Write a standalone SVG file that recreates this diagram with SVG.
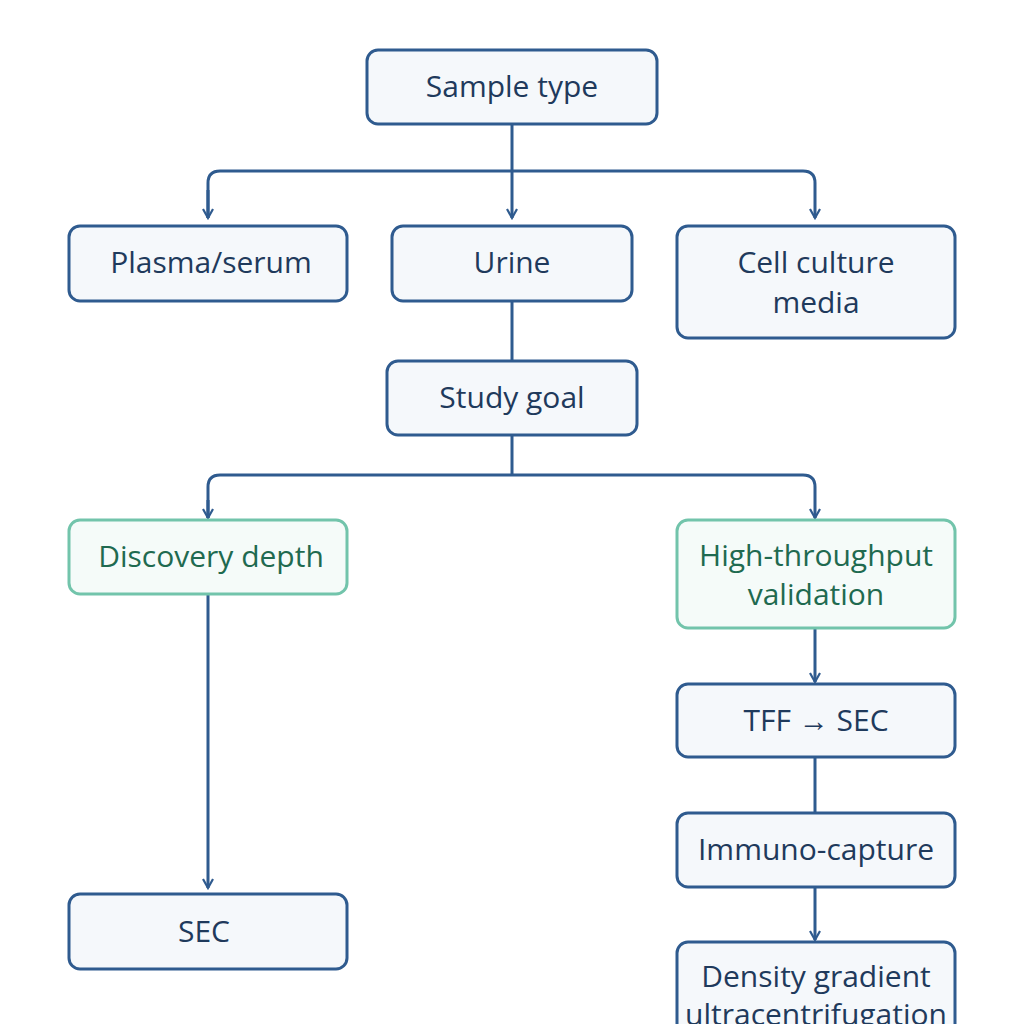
<svg xmlns="http://www.w3.org/2000/svg" width="1024" height="1024" viewBox="0 0 1024 1024">
<defs>
<marker id="ar" viewBox="0 0 12 12" refX="10" refY="6" markerWidth="12" markerHeight="12" markerUnits="userSpaceOnUse" orient="auto"><path d="M1,1 L10,6 L1,11" fill="none" stroke="#2f5b8f" stroke-width="2.2"/></marker>
<style>
.n{fill:#f5f8fb;stroke:#2f5b8f;stroke-width:3}
.g{fill:#f5fbf9;stroke:#72c4ab;stroke-width:3}
text{font-family:"Open Sans","Liberation Sans",sans-serif;font-size:30px;fill:#1f3a5c;text-anchor:middle}
.gt{fill:#1f6a50}
.c{fill:none;stroke:#2f5b8f;stroke-width:3}
</style>
</defs>
<rect width="1024" height="1024" fill="#ffffff"/>
<g id="connectors">
<path class="c" d="M512,124 V218" marker-end="url(#ar)"/>
<path class="c" d="M208,218 V183 Q208,171 220,171 H803 Q815,171 815,183 V218" marker-end="url(#ar)"/>
<path class="c" d="M208,190 V218" marker-end="url(#ar)"/>
<path class="c" d="M512,301 V361"/>
<path class="c" d="M512,435 V475"/>
<path class="c" d="M208,518 V487 Q208,475 220,475 H803 Q815,475 815,487 V518" marker-end="url(#ar)"/>
<path class="c" d="M208,500 V518" marker-end="url(#ar)"/>
<path class="c" d="M208,594 V888" marker-end="url(#ar)"/>
<path class="c" d="M815,628 V682" marker-end="url(#ar)"/>
<path class="c" d="M815,757 V813"/>
<path class="c" d="M815,887 V940" marker-end="url(#ar)"/>
</g>
<g id="sample"><rect class="n" x="367" y="50" width="290" height="74" rx="11"/><text x="512" y="97">Sample type</text></g>
<g id="plasma"><rect class="n" x="69" y="226" width="278" height="75" rx="11"/><text x="211" y="273">Plasma/serum</text></g>
<g id="urine"><rect class="n" x="392" y="226" width="240" height="75" rx="11"/><text x="512" y="273">Urine</text></g>
<g id="cell"><rect class="n" x="677" y="226" width="278" height="112" rx="11"/><text x="816" y="273">Cell culture</text><text x="816" y="313">media</text></g>
<g id="goal"><rect class="n" x="387" y="361" width="250" height="74" rx="11"/><text x="512" y="408">Study goal</text></g>
<g id="discovery"><rect class="g" x="69" y="520" width="278" height="74" rx="11"/><text class="gt" x="211" y="567">Discovery depth</text></g>
<g id="htv"><rect class="g" x="677" y="520" width="278" height="108" rx="11"/><text class="gt" x="816" y="566">High-throughput</text><text class="gt" x="816" y="605">validation</text></g>
<g id="tff"><rect class="n" x="677" y="684" width="278" height="73" rx="11"/><text x="816" y="731">TFF → SEC</text></g>
<g id="immuno"><rect class="n" x="677" y="813" width="278" height="74" rx="11"/><text x="816" y="860">Immuno-capture</text></g>
<g id="sec"><rect class="n" x="69" y="894" width="278" height="75" rx="11"/><text x="204" y="942">SEC</text></g>
<g id="density"><rect class="n" x="677" y="942" width="278" height="100" rx="11"/><text x="816" y="987">Density gradient</text><text x="816" y="1025">ultracentrifugation</text></g>
</svg>
